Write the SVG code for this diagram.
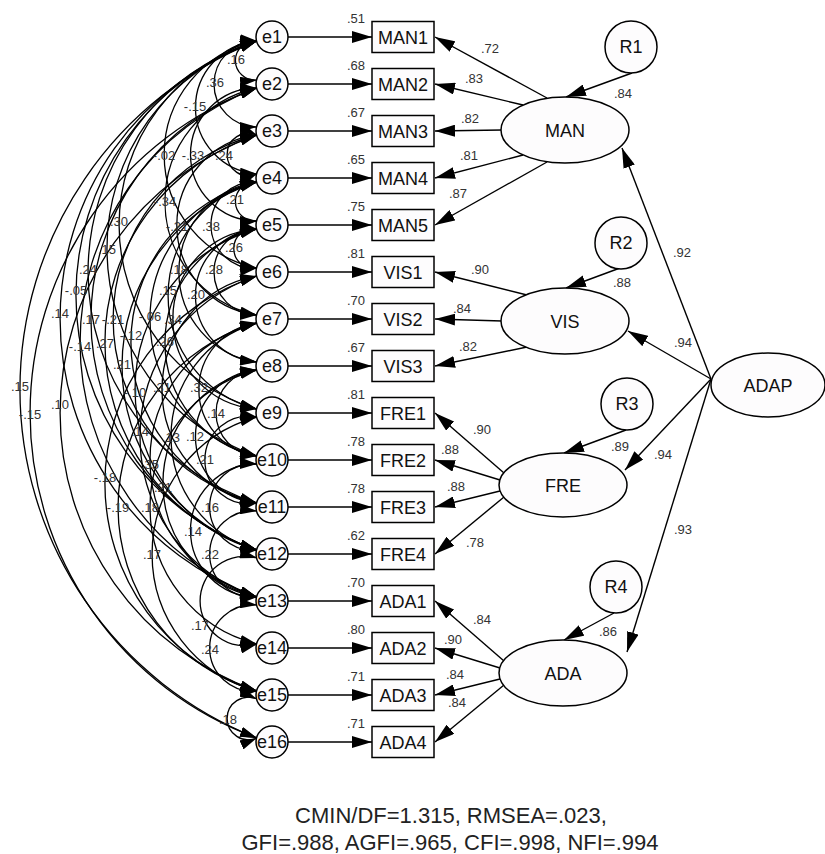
<svg xmlns="http://www.w3.org/2000/svg" width="825" height="854" viewBox="0 0 825 854">
<defs>
<marker id="ah" markerUnits="userSpaceOnUse" viewBox="0 0 20 12" refX="20" refY="6" markerWidth="20" markerHeight="12" orient="auto-start-reverse"><path d="M0 0 L20 6 L0 12 z" fill="#000"/></marker>
<marker id="ac" markerUnits="userSpaceOnUse" viewBox="0 0 17 10" refX="17" refY="5" markerWidth="17" markerHeight="10" orient="auto-start-reverse"><path d="M0 0 L17 5 L0 10 z" fill="#000"/></marker>
</defs>
<style>
text{font-family:"Liberation Sans",Arial,sans-serif;}
.n circle,.n ellipse,.n rect{fill:#fdfcfd;stroke:#000;stroke-width:1.5;}
.lb{font-size:18px;text-anchor:middle;fill:#111;}
.lt{font-size:18px;text-anchor:middle;fill:#111;}
.num{font-size:13px;text-anchor:middle;fill:#333;}
.cov path{fill:none;stroke:#000;stroke-width:1.3;marker-start:url(#ac);marker-end:url(#ac);}
.ar line{stroke:#000;stroke-width:1.4;marker-end:url(#ah);}
.fit{font-size:22px;text-anchor:middle;fill:#222;}
</style>
<rect width="825" height="854" fill="#fff"/>

<g id="connectors">
<g class="cov">
<path d="M257 41 A19.6 19.6 0 1 0 257 80"/>
<path d="M257 41 A43 43 0 0 0 257 127"/>
<path d="M257 41 A66.7 66.7 0 0 0 257 174"/>
<path d="M257 41 A115.8 115.8 0 0 0 257 268"/>
<path d="M257 88 A66.5 66.5 0 0 0 257 221"/>
<path d="M257 135 A21.3 21.3 0 1 0 257 174"/>
<path d="M257 88 A116 116 0 0 0 257 315"/>
<path d="M257 182 A19.6 19.6 0 1 0 257 221"/>
<path d="M257 135 A90.6 90.6 0 0 0 257 315"/>
<path d="M257 182 A43.1 43.1 0 1 0 257 268"/>
<path d="M257 41 A191.7 191.7 0 0 0 257 409"/>
<path d="M257 41 A218.5 218.5 0 0 0 257 456"/>
<path d="M257 229 A19.8 19.8 0 1 0 257 268"/>
<path d="M257 41 A242.4 242.4 0 0 0 257 503"/>
<path d="M257 182 A90.9 90.9 0 0 0 257 362"/>
<path d="M257 229 A43 43 0 0 0 257 315"/>
<path d="M257 41 A269.4 269.4 0 0 0 257 550"/>
<path d="M257 182 A116.9 116.9 0 0 0 257 409"/>
<path d="M257 229 A66.7 66.7 0 0 0 257 362"/>
<path d="M257 41 A294.7 294.7 0 0 0 257 597"/>
<path d="M257 88 A243.7 243.7 0 0 0 257 550"/>
<path d="M257 135 A189.6 189.6 0 0 0 257 503"/>
<path d="M257 182 A141.2 141.2 0 0 0 257 456"/>
<path d="M257 229 A90.2 90.2 0 0 0 257 409"/>
<path d="M257 88 A271.5 271.5 0 0 0 257 597"/>
<path d="M257 135 A217.6 217.6 0 0 0 257 550"/>
<path d="M257 182 A165.2 165.2 0 0 0 257 503"/>
<path d="M257 229 A116 116 0 0 0 257 456"/>
<path d="M257 182 A192.9 192.9 0 0 0 257 550"/>
<path d="M257 229 A166.6 166.6 0 0 0 257 550"/>
<path d="M257 276 A115.3 115.3 0 0 0 257 503"/>
<path d="M257 323 A67.1 67.1 0 0 0 257 456"/>
<path d="M257 41 A374.7 374.7 0 0 0 257 738"/>
<path d="M257 88 A346.2 346.2 0 0 0 257 738"/>
<path d="M257 135 A294.7 294.7 0 0 0 257 691"/>
<path d="M257 276 A168.6 168.6 0 0 0 257 597"/>
<path d="M257 370 A43.05 43.05 0 0 0 257 456"/>
<path d="M257 323 A117.9 117.9 0 0 0 257 550"/>
<path d="M257 370 A66.7 66.7 0 0 0 257 503"/>
<path d="M257 417 A43.8 43.8 0 1 0 257 503"/>
<path d="M257 323 A141.2 141.2 0 0 0 257 597"/>
<path d="M257 276 A217.6 217.6 0 0 0 257 691"/>
<path d="M257 370 A115.5 115.5 0 0 0 257 597"/>
<path d="M257 323 A191.3 191.3 0 0 0 257 691"/>
<path d="M257 370 A141.2 141.2 0 0 0 257 644"/>
<path d="M257 464 A43.2 43.2 0 1 0 257 550"/>
<path d="M257 464 A66.5 66.5 0 0 0 257 597"/>
<path d="M257 417 A141.9 141.9 0 0 0 257 691"/>
<path d="M257 511 A43.2 43.2 0 1 0 257 597"/>
<path d="M257 558 A44.7 44.7 0 1 0 257 644"/>
<path d="M257 605 A43.2 43.2 0 1 0 257 691"/>
<path d="M257 699 A21.3 21.3 0 1 0 257 738"/>
</g>
<g class="ar">
<line x1="288" y1="37" x2="372" y2="37"/>
<line x1="288" y1="84" x2="372" y2="84"/>
<line x1="288" y1="131" x2="372" y2="131"/>
<line x1="288" y1="178" x2="372" y2="178"/>
<line x1="288" y1="225" x2="372" y2="225"/>
<line x1="288" y1="272" x2="372" y2="272"/>
<line x1="288" y1="319" x2="372" y2="319"/>
<line x1="288" y1="366" x2="372" y2="366"/>
<line x1="288" y1="413" x2="372" y2="413"/>
<line x1="288" y1="460" x2="372" y2="460"/>
<line x1="288" y1="507" x2="372" y2="507"/>
<line x1="288" y1="554" x2="372" y2="554"/>
<line x1="288" y1="601" x2="372" y2="601"/>
<line x1="288" y1="648" x2="372" y2="648"/>
<line x1="288" y1="695" x2="372" y2="695"/>
<line x1="288" y1="742" x2="372" y2="742"/>
<line x1="547" y1="98" x2="435" y2="37"/>
<line x1="523" y1="105" x2="435" y2="84"/>
<line x1="502" y1="130" x2="435" y2="131"/>
<line x1="523" y1="155" x2="435" y2="178"/>
<line x1="547" y1="162" x2="435" y2="225"/>
<line x1="527" y1="295" x2="435" y2="272"/>
<line x1="502" y1="321" x2="435" y2="319"/>
<line x1="527" y1="347" x2="435" y2="366"/>
<line x1="504" y1="473" x2="435" y2="413"/>
<line x1="500" y1="480" x2="435" y2="460"/>
<line x1="500" y1="491" x2="435" y2="507"/>
<line x1="504" y1="497" x2="435" y2="554"/>
<line x1="504" y1="661" x2="435" y2="601"/>
<line x1="500" y1="668" x2="435" y2="648"/>
<line x1="500" y1="679" x2="435" y2="695"/>
<line x1="504" y1="685" x2="435" y2="742"/>
<line x1="632" y1="73" x2="566" y2="97"/>
<line x1="620" y1="268" x2="566" y2="288"/>
<line x1="626" y1="430" x2="564" y2="453"/>
<line x1="614" y1="613" x2="564" y2="640"/>
<line x1="711" y1="379" x2="622" y2="148"/>
<line x1="711" y1="379" x2="628" y2="331"/>
<line x1="711" y1="379" x2="625" y2="470"/>
<line x1="711" y1="379" x2="627" y2="652"/>
</g>
</g>

<g id="e1" class="n"><circle cx="272" cy="37" r="16"/><text class="lb" x="272" y="43">e1</text></g>
<g id="e2" class="n"><circle cx="272" cy="84" r="16"/><text class="lb" x="272" y="90">e2</text></g>
<g id="e3" class="n"><circle cx="272" cy="131" r="16"/><text class="lb" x="272" y="137">e3</text></g>
<g id="e4" class="n"><circle cx="272" cy="178" r="16"/><text class="lb" x="272" y="184">e4</text></g>
<g id="e5" class="n"><circle cx="272" cy="225" r="16"/><text class="lb" x="272" y="231">e5</text></g>
<g id="e6" class="n"><circle cx="272" cy="272" r="16"/><text class="lb" x="272" y="278">e6</text></g>
<g id="e7" class="n"><circle cx="272" cy="319" r="16"/><text class="lb" x="272" y="325">e7</text></g>
<g id="e8" class="n"><circle cx="272" cy="366" r="16"/><text class="lb" x="272" y="372">e8</text></g>
<g id="e9" class="n"><circle cx="272" cy="413" r="16"/><text class="lb" x="272" y="419">e9</text></g>
<g id="e10" class="n"><circle cx="272" cy="460" r="16"/><text class="lb" x="272" y="466">e10</text></g>
<g id="e11" class="n"><circle cx="272" cy="507" r="16"/><text class="lb" x="272" y="513">e11</text></g>
<g id="e12" class="n"><circle cx="272" cy="554" r="16"/><text class="lb" x="272" y="560">e12</text></g>
<g id="e13" class="n"><circle cx="272" cy="601" r="16"/><text class="lb" x="272" y="607">e13</text></g>
<g id="e14" class="n"><circle cx="272" cy="648" r="16"/><text class="lb" x="272" y="654">e14</text></g>
<g id="e15" class="n"><circle cx="272" cy="695" r="16"/><text class="lb" x="272" y="701">e15</text></g>
<g id="e16" class="n"><circle cx="272" cy="742" r="16"/><text class="lb" x="272" y="748">e16</text></g>

<g id="MAN1" class="n"><rect x="372" y="21.5" width="62" height="31"/><text class="lb" x="403" y="43.5">MAN1</text></g>
<g id="MAN2" class="n"><rect x="372" y="68.5" width="62" height="31"/><text class="lb" x="403" y="90.5">MAN2</text></g>
<g id="MAN3" class="n"><rect x="372" y="115.5" width="62" height="31"/><text class="lb" x="403" y="137.5">MAN3</text></g>
<g id="MAN4" class="n"><rect x="372" y="162.5" width="62" height="31"/><text class="lb" x="403" y="184.5">MAN4</text></g>
<g id="MAN5" class="n"><rect x="372" y="209.5" width="62" height="31"/><text class="lb" x="403" y="231.5">MAN5</text></g>
<g id="VIS1" class="n"><rect x="372" y="256.5" width="62" height="31"/><text class="lb" x="403" y="278.5">VIS1</text></g>
<g id="VIS2" class="n"><rect x="372" y="303.5" width="62" height="31"/><text class="lb" x="403" y="325.5">VIS2</text></g>
<g id="VIS3" class="n"><rect x="372" y="350.5" width="62" height="31"/><text class="lb" x="403" y="372.5">VIS3</text></g>
<g id="FRE1" class="n"><rect x="372" y="397.5" width="62" height="31"/><text class="lb" x="403" y="419.5">FRE1</text></g>
<g id="FRE2" class="n"><rect x="372" y="444.5" width="62" height="31"/><text class="lb" x="403" y="466.5">FRE2</text></g>
<g id="FRE3" class="n"><rect x="372" y="491.5" width="62" height="31"/><text class="lb" x="403" y="513.5">FRE3</text></g>
<g id="FRE4" class="n"><rect x="372" y="538.5" width="62" height="31"/><text class="lb" x="403" y="560.5">FRE4</text></g>
<g id="ADA1" class="n"><rect x="372" y="585.5" width="62" height="31"/><text class="lb" x="403" y="607.5">ADA1</text></g>
<g id="ADA2" class="n"><rect x="372" y="632.5" width="62" height="31"/><text class="lb" x="403" y="654.5">ADA2</text></g>
<g id="ADA3" class="n"><rect x="372" y="679.5" width="62" height="31"/><text class="lb" x="403" y="701.5">ADA3</text></g>
<g id="ADA4" class="n"><rect x="372" y="726.5" width="62" height="31"/><text class="lb" x="403" y="748.5">ADA4</text></g>

<g id="MAN" class="n"><ellipse cx="565" cy="130" rx="64" ry="33"/><text class="lt" x="565" y="136.5">MAN</text></g>
<g id="VIS" class="n"><ellipse cx="565" cy="321" rx="64" ry="33"/><text class="lt" x="565" y="327.5">VIS</text></g>
<g id="FRE" class="n"><ellipse cx="563" cy="485" rx="64" ry="32"/><text class="lt" x="563" y="491.5">FRE</text></g>
<g id="ADA" class="n"><ellipse cx="563" cy="673" rx="64" ry="33"/><text class="lt" x="563" y="679.5">ADA</text></g>
<g id="ADAP" class="n"><ellipse cx="768" cy="385" rx="57" ry="32"/><text class="lt" x="768" y="391.5">ADAP</text></g>
<g id="R1" class="n"><circle cx="631" cy="47" r="26"/><text class="lb" x="631" y="53">R1</text></g>
<g id="R2" class="n"><circle cx="621" cy="243" r="26"/><text class="lb" x="621" y="249">R2</text></g>
<g id="R3" class="n"><circle cx="627" cy="404" r="26"/><text class="lb" x="627" y="410">R3</text></g>
<g id="R4" class="n"><circle cx="616" cy="587" r="26"/><text class="lb" x="616" y="593">R4</text></g>

<g id="labels">
<text class="num" x="356" y="23">.51</text>
<text class="num" x="356" y="70">.68</text>
<text class="num" x="356" y="117">.67</text>
<text class="num" x="356" y="164">.65</text>
<text class="num" x="356" y="211">.75</text>
<text class="num" x="356" y="258">.81</text>
<text class="num" x="356" y="305">.70</text>
<text class="num" x="356" y="352">.67</text>
<text class="num" x="356" y="399">.81</text>
<text class="num" x="356" y="446">.78</text>
<text class="num" x="356" y="493">.78</text>
<text class="num" x="356" y="540">.62</text>
<text class="num" x="356" y="587">.70</text>
<text class="num" x="356" y="634">.80</text>
<text class="num" x="356" y="681">.71</text>
<text class="num" x="356" y="728">.71</text>
<text class="num" x="490" y="53">.72</text>
<text class="num" x="474" y="83">.83</text>
<text class="num" x="470" y="123">.82</text>
<text class="num" x="469" y="160">.81</text>
<text class="num" x="458" y="198">.87</text>
<text class="num" x="480" y="274">.90</text>
<text class="num" x="462" y="313">.84</text>
<text class="num" x="468" y="351">.82</text>
<text class="num" x="482" y="434">.90</text>
<text class="num" x="450" y="454">.88</text>
<text class="num" x="456" y="491">.88</text>
<text class="num" x="475" y="547">.78</text>
<text class="num" x="482" y="624">.84</text>
<text class="num" x="453" y="644">.90</text>
<text class="num" x="455" y="679">.84</text>
<text class="num" x="457" y="707">.84</text>
<text class="num" x="623" y="98">.84</text>
<text class="num" x="622" y="287">.88</text>
<text class="num" x="620" y="451">.89</text>
<text class="num" x="608" y="636">.86</text>
<text class="num" x="682" y="257">.92</text>
<text class="num" x="683" y="347">.94</text>
<text class="num" x="663" y="459">.94</text>
<text class="num" x="683" y="534">.93</text>
<text class="num" x="236" y="64">.16</text>
<text class="num" x="215" y="87">.36</text>
<text class="num" x="195" y="111">-.15</text>
<text class="num" x="164" y="160">-.02</text>
<text class="num" x="193" y="160">-.33</text>
<text class="num" x="224" y="160">.24</text>
<text class="num" x="165" y="206">-.34</text>
<text class="num" x="235" y="204">.21</text>
<text class="num" x="177" y="231">-.21</text>
<text class="num" x="211" y="231">.38</text>
<text class="num" x="119" y="226">.30</text>
<text class="num" x="107" y="254">.15</text>
<text class="num" x="234" y="252">.26</text>
<text class="num" x="88" y="274">.24</text>
<text class="num" x="179" y="274">.18</text>
<text class="num" x="214" y="274">.28</text>
<text class="num" x="76" y="295">-.05</text>
<text class="num" x="168" y="295">.15</text>
<text class="num" x="196" y="299">.20</text>
<text class="num" x="60" y="318">.14</text>
<text class="num" x="91" y="324">.17</text>
<text class="num" x="113" y="324">-.21</text>
<text class="num" x="150" y="321">-.06</text>
<text class="num" x="173" y="324">.34</text>
<text class="num" x="80" y="351">-.14</text>
<text class="num" x="105" y="348">.27</text>
<text class="num" x="131" y="340">-.12</text>
<text class="num" x="165" y="346">.26</text>
<text class="num" x="122" y="369">.21</text>
<text class="num" x="135" y="397">-.10</text>
<text class="num" x="162" y="392">.31</text>
<text class="num" x="199" y="392">.32</text>
<text class="num" x="20" y="391">.15</text>
<text class="num" x="30" y="419">-.15</text>
<text class="num" x="60" y="409">.10</text>
<text class="num" x="140" y="436">.14</text>
<text class="num" x="216" y="418">.14</text>
<text class="num" x="171" y="442">.13</text>
<text class="num" x="195" y="441">.12</text>
<text class="num" x="205" y="464">.21</text>
<text class="num" x="150" y="469">.35</text>
<text class="num" x="105" y="482">-.18</text>
<text class="num" x="163" y="492">.21</text>
<text class="num" x="118" y="512">-.19</text>
<text class="num" x="150" y="512">.18</text>
<text class="num" x="210" y="512">.16</text>
<text class="num" x="193" y="536">.14</text>
<text class="num" x="152" y="559">.17</text>
<text class="num" x="210" y="559">.22</text>
<text class="num" x="200" y="630">.17</text>
<text class="num" x="210" y="654">.24</text>
<text class="num" x="228" y="724">.18</text>
</g>

<g id="fit">
<text class="fit" x="451" y="823">CMIN/DF=1.315, RMSEA=.023,</text>
<text class="fit" x="450" y="850">GFI=.988, AGFI=.965, CFI=.998, NFI=.994</text>
</g>
</svg>
